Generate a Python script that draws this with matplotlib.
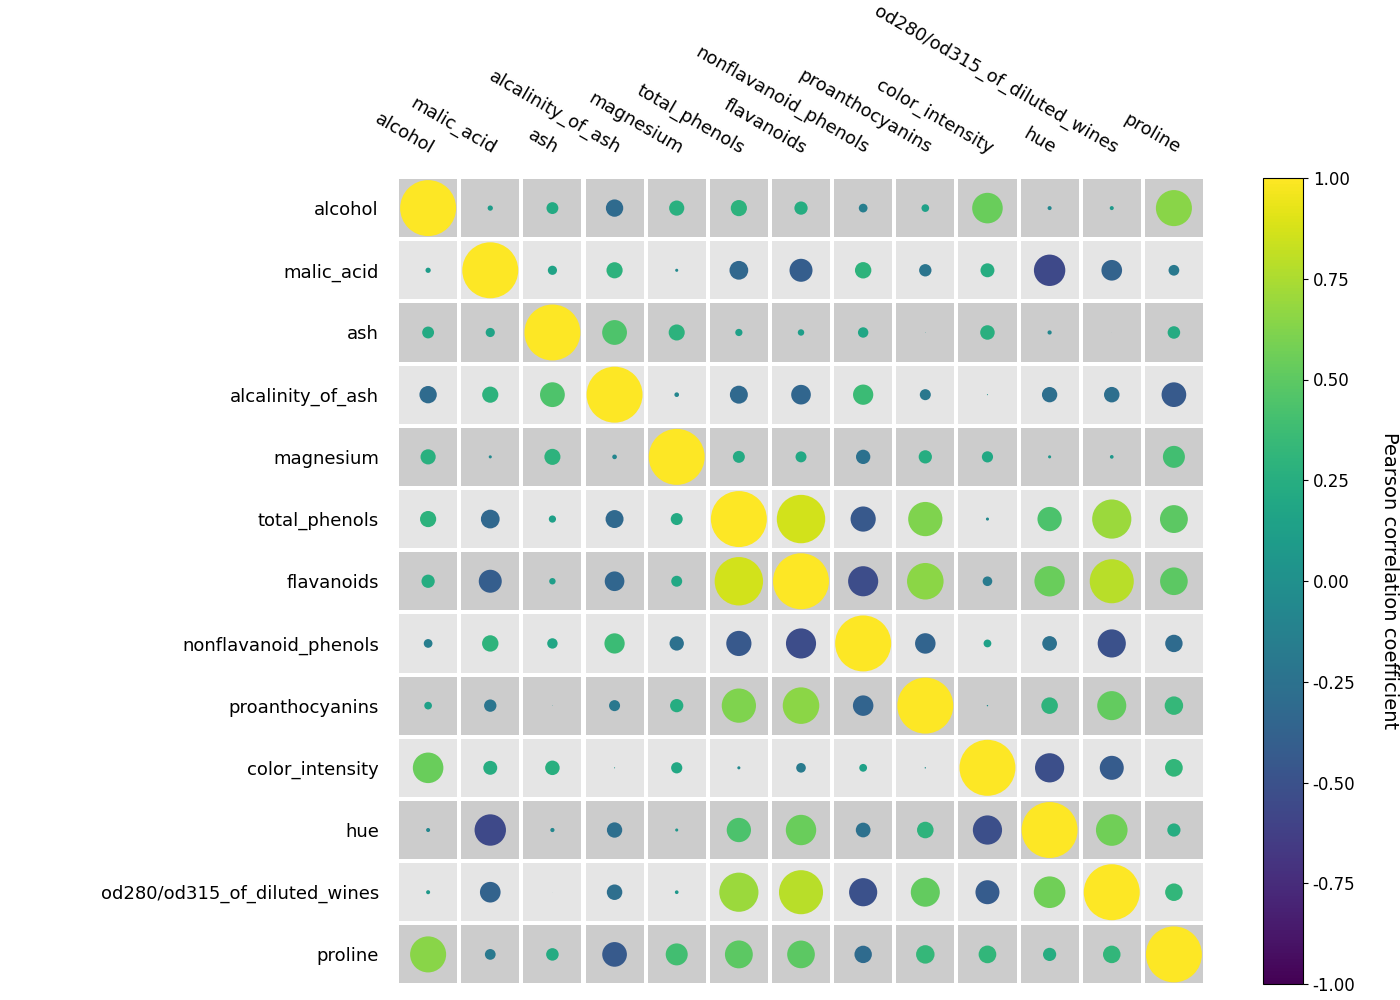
import matplotlib
matplotlib.use("Agg")
import matplotlib.pyplot as plt
import numpy as np
from matplotlib.patches import Rectangle

features = ["alcohol", "malic_acid", "ash", "alcalinity_of_ash", "magnesium",
            "total_phenols", "flavanoids", "nonflavanoid_phenols", "proanthocyanins",
            "color_intensity", "hue", "od280/od315_of_diluted_wines", "proline"]

r_alcohol = [1.000, 0.094, 0.212, -0.310, 0.271, 0.289, 0.237, -0.156, 0.137, 0.546, -0.072, 0.072, 0.644]
r_malic_acid = [0.094, 1.000, 0.164, 0.289, -0.055, -0.335, -0.411, 0.293, -0.221, 0.249, -0.561, -0.369, -0.192]
r_ash = [0.212, 0.164, 1.000, 0.443, 0.287, 0.129, 0.115, 0.186, 0.010, 0.259, -0.075, 0.004, 0.224]
r_alcalinity = [-0.310, 0.289, 0.443, 1.000, -0.083, -0.321, -0.351, 0.362, -0.197, 0.019, -0.274, -0.277, -0.441]
r_magnesium = [0.271, -0.055, 0.287, -0.083, 1.000, 0.214, 0.196, -0.256, 0.237, 0.200, 0.055, 0.066, 0.393]
r_total_phenols = [0.289, -0.335, 0.129, -0.321, 0.214, 1.000, 0.865, -0.450, 0.612, -0.055, 0.434, 0.700, 0.498]
r_flavanoids = [0.237, -0.411, 0.115, -0.351, 0.196, 0.865, 1.000, -0.538, 0.653, -0.172, 0.543, 0.787, 0.494]
r_nonflav = [-0.156, 0.293, 0.186, 0.362, -0.256, -0.450, -0.538, 1.000, -0.366, 0.139, -0.263, -0.503, -0.311]
r_proanth = [0.137, -0.221, 0.010, -0.197, 0.237, 0.612, 0.653, -0.366, 1.000, -0.025, 0.296, 0.519, 0.330]
r_color = [0.546, 0.249, 0.259, 0.019, 0.200, -0.055, -0.172, 0.139, -0.025, 1.000, -0.522, -0.429, 0.316]
r_hue = [-0.072, -0.561, -0.075, -0.274, 0.055, 0.434, 0.543, -0.263, 0.296, -0.522, 1.000, 0.565, 0.236]
r_od280 = [0.072, -0.369, 0.004, -0.277, 0.066, 0.700, 0.787, -0.503, 0.519, -0.429, 0.565, 1.000, 0.313]
r_proline = [0.644, -0.192, 0.224, -0.441, 0.393, 0.498, 0.494, -0.311, 0.330, 0.316, 0.236, 0.313, 1.000]

corr = np.array([r_alcohol, r_malic_acid, r_ash, r_alcalinity, r_magnesium, r_total_phenols,
                 r_flavanoids, r_nonflav, r_proanth, r_color, r_hue, r_od280, r_proline])
n = len(features)

plt.rcParams["font.size"] = 12
fig = plt.figure(figsize=(14, 10), dpi=100)
ax = fig.add_axes([0.2836, 0.0145, 0.5771, 0.8085])
cax = fig.add_axes([0.9021, 0.016, 0.0286, 0.806])

cell = 0.935
for i in range(n):
    for j in range(n):
        fc = "#cccccc" if i % 2 == 0 else "#e5e5e5"
        ax.add_patch(Rectangle((j - cell / 2, i - cell / 2), cell, cell, facecolor=fc, edgecolor="none", zorder=0))

X, Y = np.meshgrid(np.arange(n), np.arange(n))
sc = ax.scatter(X.ravel(), Y.ravel(), c=corr.ravel(), cmap="viridis", vmin=-1, vmax=1,
                s=(40.3 * np.abs(corr.ravel())) ** 2, linewidths=0, zorder=2)

ax.set_xlim(-0.5, n - 0.5)
ax.set_ylim(n - 0.5, -0.5)
ax.set_xticks(np.arange(n))
ax.set_yticks(np.arange(n))
ax.set_yticklabels(features, fontsize=13)
ax.xaxis.tick_top()
ax.set_xticklabels(features, rotation=-30, ha="right", va="bottom", rotation_mode="anchor", fontsize=13)
ax.tick_params(axis="both", length=0)
ax.tick_params(axis="y", pad=13)
ax.tick_params(axis="x", pad=14)
for s in ax.spines.values():
    s.set_visible(False)

cb = fig.colorbar(sc, cax=cax, format="%.2f")
cb.set_ticks(np.arange(-1, 1.01, 0.25))
cb.set_label("Pearson correlation coefficient", rotation=270, labelpad=31, fontsize=14)

fig.savefig("out.png", dpi=100)
